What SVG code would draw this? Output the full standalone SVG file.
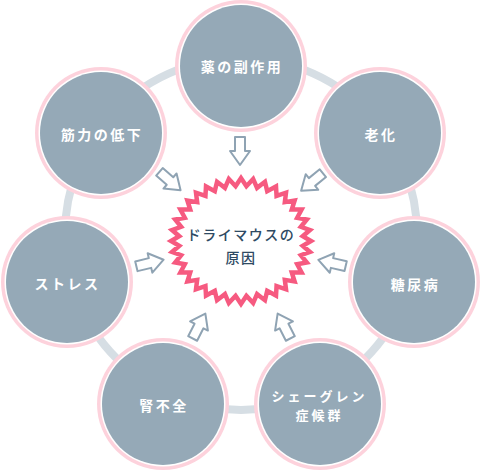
<svg xmlns="http://www.w3.org/2000/svg" width="482" height="471" viewBox="0 0 482 471">
<style>
.ring{fill:none;stroke:#d6dee4;stroke-width:8}
.pk{fill:#fdd2dc}
.wh{fill:#ffffff}
.gy{fill:#95a9b7}
.lbl{font-family:"Noto Sans CJK JP","Noto Sans",sans-serif;font-size:14px;font-weight:700;fill:#ffffff;letter-spacing:2.5px;text-anchor:middle}
.sm{font-size:13px;letter-spacing:3px}
.ctr{font-family:"Noto Sans CJK JP","Noto Sans",sans-serif;font-size:14px;font-weight:500;fill:#2e4a63;letter-spacing:1.5px;text-anchor:middle}
.arw{fill:#ffffff;stroke:#8fa3b3;stroke-width:2;stroke-linejoin:round}
</style>
<defs>
<g id="node">
<circle r="66" class="pk"/>
<circle r="62.5" class="wh"/>
<circle r="61" class="gy"/>
</g>
<path id="arrow" d="M-14,-5 L0,-5 L0,-10 L14,0 L0,10 L0,5 L-14,5 Z"/>
</defs>
<rect width="482" height="471" fill="#ffffff"/>
<g id="connectors">
<circle cx="241" cy="234" r="176" class="ring"/>
<g class="arw">
<use href="#arrow" transform="translate(240,151) rotate(90)"/>
<use href="#arrow" transform="translate(312,182) rotate(141)"/>
<use href="#arrow" transform="translate(332,263) rotate(193)"/>
<use href="#arrow" transform="translate(284,326) rotate(-117)"/>
<use href="#arrow" transform="translate(199,326) rotate(-63)"/>
<use href="#arrow" transform="translate(150,263) rotate(-13.6)"/>
<use href="#arrow" transform="translate(170,181) rotate(41)"/>
</g>
</g>
<g id="n-kusuri"><use href="#node" x="241" y="66"/><text class="lbl" x="242" y="71.5">薬の副作用</text></g>
<g id="n-rouka"><use href="#node" x="380" y="133"/><text class="lbl" x="381" y="140">老化</text></g>
<g id="n-tounyou"><use href="#node" x="414" y="282"/><text class="lbl" x="415.5" y="289.5">糖尿病</text></g>
<g id="n-sjogren"><use href="#node" x="320" y="404"/><text class="lbl sm"><tspan x="319.5" y="401">シェーグレン</tspan><tspan x="319.5" y="420">症候群</tspan></text></g>
<g id="n-jinfuzen"><use href="#node" x="163" y="404"/><text class="lbl" x="164" y="410.5">腎不全</text></g>
<g id="n-stress"><use href="#node" x="67" y="282"/><text class="lbl" x="67.5" y="289">ストレス</text></g>
<g id="n-kinryoku"><use href="#node" x="101" y="133"/><text class="lbl" x="102" y="139.5">筋力の低下</text></g>
<g id="center">
<path transform="translate(241,241)" fill="#ffffff" stroke="#f65a80" stroke-width="4.5" stroke-linejoin="miter" d="M70,0 L61.76,4.8 L68.94,10.94 L59.89,14.23 L65.78,21.55 L56.19,23.24 L60.62,31.5 L50.79,31.55 L53.62,40.5 L43.84,38.89 L45,48.26 L35.56,45.06 L35,54.56 L26.2,49.85 L23.94,59.2 L16.05,53.12 L12.15,62.04 L5.41,54.79 L0,63 L-5.41,54.79 L-12.15,62.04 L-16.05,53.12 L-23.94,59.2 L-26.2,49.85 L-35,54.56 L-35.56,45.06 L-45,48.26 L-43.84,38.89 L-53.62,40.5 L-50.79,31.55 L-60.62,31.5 L-56.19,23.24 L-65.78,21.55 L-59.89,14.23 L-68.94,10.94 L-61.76,4.8 L-70,0 L-61.76,-4.8 L-68.94,-10.94 L-59.89,-14.23 L-65.78,-21.55 L-56.19,-23.24 L-60.62,-31.5 L-50.79,-31.55 L-53.62,-40.5 L-43.84,-38.89 L-45,-48.26 L-35.56,-45.06 L-35,-54.56 L-26.2,-49.85 L-23.94,-59.2 L-16.05,-53.12 L-12.15,-62.04 L-5.41,-54.79 L0,-63 L5.41,-54.79 L12.15,-62.04 L16.05,-53.12 L23.94,-59.2 L26.2,-49.85 L35,-54.56 L35.56,-45.06 L45,-48.26 L43.84,-38.89 L53.62,-40.5 L50.79,-31.55 L60.62,-31.5 L56.19,-23.24 L65.78,-21.55 L59.89,-14.23 L68.94,-10.94 L61.76,-4.8 Z"/>
<text class="ctr"><tspan x="241" y="240">ドライマウスの</tspan><tspan x="241" y="263">原因</tspan></text>
</g>
</svg>
